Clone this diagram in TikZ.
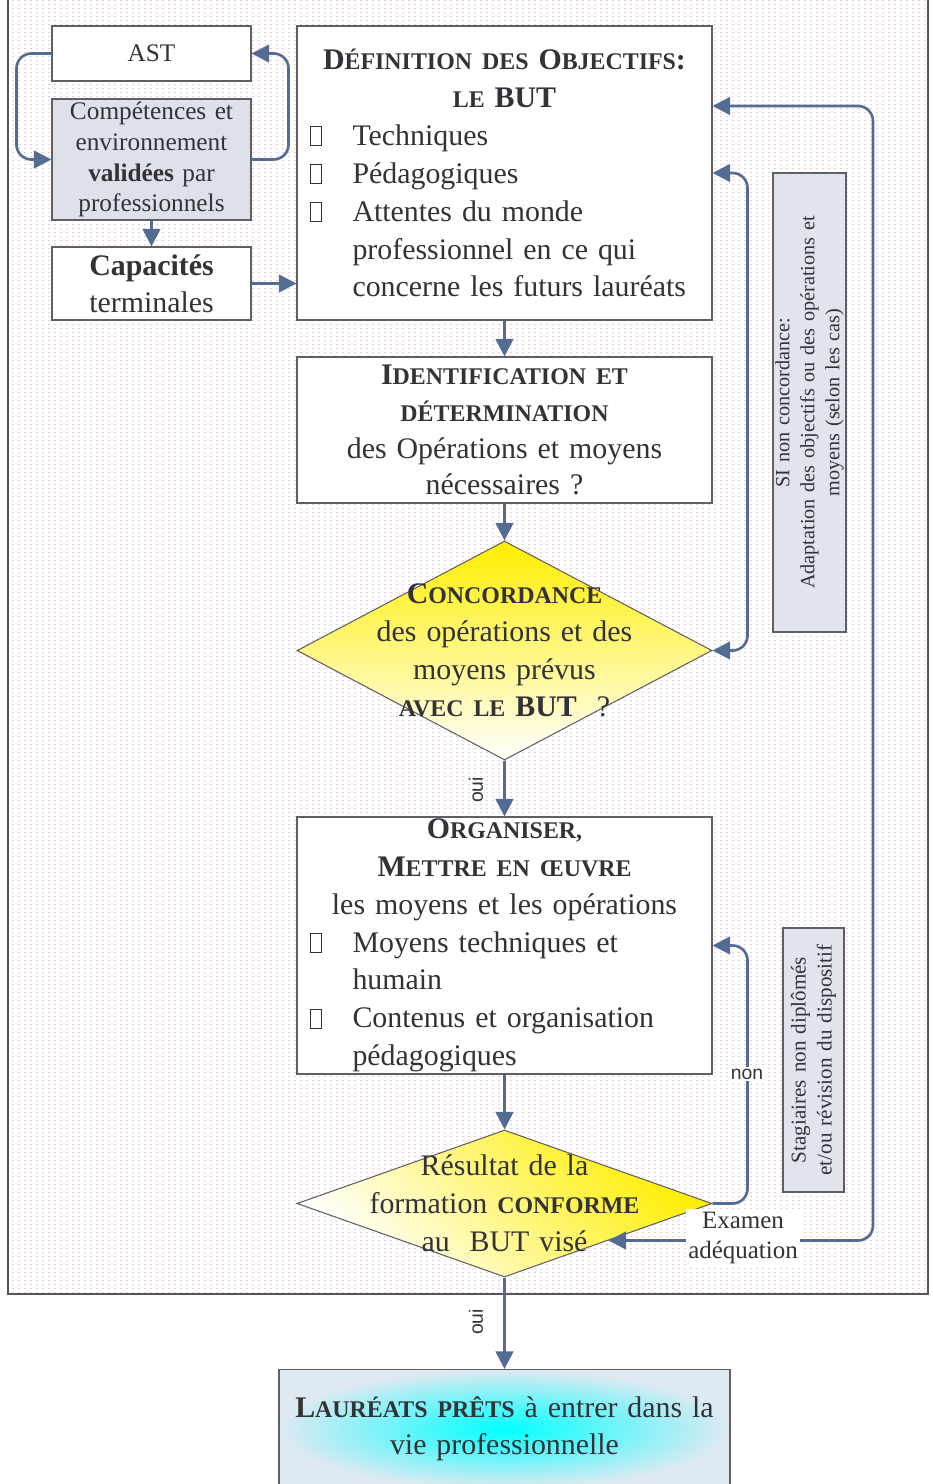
\documentclass[tikz,border=0pt]{standalone}
\usepackage{fontspec}
\setmainfont{Liberation Serif}
\newfontfamily\labelfont{Liberation Sans}
\usetikzlibrary{shapes.geometric,arrows.meta,patterns}

\definecolor{lineblue}{RGB}{84,108,148}
\definecolor{txtgrey}{RGB}{50,50,55}
\definecolor{boxedge}{RGB}{95,95,100}
\definecolor{framegrey}{RGB}{85,85,90}
\definecolor{panelgrey}{RGB}{225,228,235}
\definecolor{compfill}{RGB}{222,225,232}
\definecolor{finfill}{RGB}{222,233,242}
\definecolor{dotpink}{RGB}{222,180,194}
\definecolor{goldyellow}{RGB}{255,238,0}

% tiny dashes of the page background
\pgfdeclarepatternformonly{pinkticks}{\pgfpointorigin}{\pgfqpoint{3.4pt}{2.04pt}}{\pgfqpoint{3.4pt}{2.04pt}}{%
\pgfpathrectangle{\pgfqpoint{0.6pt}{0.8pt}}{\pgfqpoint{1.1pt}{0.45pt}}\pgfusepath{fill}}

% fake bold small capitals and the empty bullet box
\newcommand{\smc}[1]{{\fontsize{13.6}{15}\selectfont #1}}
\newcommand{\bx}{{\fboxsep=0pt\fboxrule=0.6pt\fbox{\rule{0pt}{0.36cm}\hspace{0.2cm}}}}
\newcommand{\itm}[1]{\par{\hangindent=0.86cm\hangafter=1\noindent\makebox[0.86cm][l]{\bx}\let\\\newline #1\par}}

\tikzset{
% boxes, decisions and connectors of the flow chart
plain box/.style={rectangle,draw=boxedge,line width=0.6pt,fill=white,text=txtgrey,inner sep=0pt,align=center},
grey box/.style={plain box,fill=panelgrey},
check node/.style={diamond,draw=boxedge,line width=0.6pt,inner sep=0pt},
flow text/.style={text=txtgrey,inner sep=0pt,font=\fontsize{17}{21.5}\selectfont},
link/.style={draw=lineblue,line width=1.5pt,rounded corners=0.3cm},
small label/.style={font=\labelfont\fontsize{11}{13}\selectfont,text=txtgrey,inner sep=1pt},
>={Triangle[length=10pt,width=10pt]}
}

\begin{document}
\begin{tikzpicture}
\useasboundingbox (0,0) rectangle (18.66,-29.68);
\fill[white] (0,0) rectangle (18.66,-29.68);
% background frame
\draw[draw=framegrey,line width=1pt,pattern=pinkticks,pattern color=dotpink] (0.16,0.1) rectangle (18.56,-25.88);

% side notes
\node[grey box,rotate=90,minimum width=9.18cm,minimum height=1.46cm,text width=9cm,font=\fontsize{11.5}{14.2}\selectfont] (note1) at (16.19,-8.05)
{SI non concordance:\\Adaptation des objectifs ou des opérations et\\moyens (selon les cas)};
\node[grey box,rotate=90,minimum width=5.28cm,minimum height=1.22cm,text width=5.2cm,font=\fontsize{12}{14.7}\selectfont] (note2) at (16.27,-21.2)
{Stagiaires non diplômés\\et/ou révision du dispositif};

% left column
\node[plain box,minimum width=3.98cm,minimum height=1.1cm,font=\fontsize{14.4}{17.6}\selectfont] (ast) at (3.03,-1.07) {AST};
\node[plain box,fill=compfill,minimum width=3.98cm,minimum height=2.42cm,text width=3.9cm,font=\fontsize{14.4}{17.6}\selectfont] (comp) at (3.03,-3.19)
{Compétences et\\environnement\\\textbf{validées} par\\professionnels};
\node[plain box,minimum width=3.98cm,minimum height=1.46cm,text width=3.9cm,font=\fontsize{17}{21}\selectfont] (cap) at (3.03,-5.67)
{\textbf{Capacités}\\terminales};

% main column
\node[plain box,minimum width=8.3cm,minimum height=5.88cm,text width=7.8cm,align=left,font=\fontsize{17}{21.6}\selectfont] (def) at (10.09,-3.46)
{{\centering\bfseries D\smc{ÉFINITION DES} O\smc{BJECTIFS}:\\\smc{LE} BUT\par}
\itm{Techniques}
\itm{Pédagogiques}
\itm{Attentes du monde\\professionnel en ce qui\\concerne les futurs lauréats}};
\node[plain box,minimum width=8.3cm,minimum height=2.92cm,text width=8cm,font=\fontsize{17}{21}\selectfont] (ident) at (10.09,-8.6)
{{\bfseries I\smc{DENTIFICATION ET}\\\smc{DÉTERMINATION}}\\des Opérations et moyens\\nécessaires ?};
\node[check node,top color=goldyellow,bottom color=white,minimum width=8.3cm,minimum height=4.38cm] (d1) at (10.09,-13.01) {};
\node[flow text,align=center,text width=6.5cm] (d1 text) at (d1)
{{\bfseries C\smc{ONCORDANCE}}\\des opérations et des\\moyens prévus\\{\bfseries\smc{AVEC LE} BUT}\ \ ?};
\node[plain box,minimum width=8.3cm,minimum height=5.14cm] (org) at (10.09,-18.91) {};
\node[flow text,align=left,text width=7.8cm] (org text) at (org)
{{\centering\bfseries O\smc{RGANISER,}\\M\smc{ETTRE EN ŒUVRE}\par}
{\centering les moyens et les opérations\par}
\itm{Moyens techniques et\\humain}
\itm{Contenus et organisation\\pédagogiques}};
\node[check node,top color=goldyellow,bottom color=white,shading angle=-45,minimum width=8.3cm,minimum height=2.94cm] (d2) at (10.09,-24.07) {};
\node[flow text,align=center,text width=6.5cm] (d2 text) at (d2)
{Résultat de la\\formation {\bfseries\smc{CONFORME}}\\au\ \ BUT visé};
\node[plain box,anchor=north,minimum width=9.02cm,minimum height=2.38cm,text width=8.8cm,shading=radial,inner color=cyan,outer color=finfill,font=\fontsize{17}{21.3}\selectfont] (fin) at (10.09,-27.38)
{{\bfseries L\smc{AURÉATS PRÊTS}} à entrer dans la\\vie professionnelle};

% connectors
\draw[link,->] (ast.west) -- ++(-0.7,0) |- (comp.west);
\draw[link,->] (comp.east) -- ++(0.74,0) |- (ast.east);
\draw[link,->] (comp.south) -- (cap.north);
\draw[link,->] (cap.east) -- (cap.east -| def.west);
\draw[link,->] (def.south) -- (ident.north);
\draw[link,->] (ident.south) -- (d1.north);
\draw[link,<->] (d1.east) -- ++(0.7,0) |- (def.east);
\draw[link,->] (d1.south) -- (org.north);
\draw[link,->] (org.south) -- (d2.north);
\draw[link,->] (d2.east) -- ++(0.7,0) |- (org.east);
\coordinate (back) at (17.46,-2.12);
\draw[link,<->] (d2.south east) -| (back) -- (back -| def.east);
\draw[link,->] (d2.south) -- (fin.north);

% labels on the connectors
\node[small label,rotate=90] (oui1) at (9.52,-15.8) {oui};
\node[small label,rotate=90] (oui2) at (9.52,-26.44) {oui};
\node[small label,fill=white] (non) at (14.94,-21.48) {non};
\node[fill=white,text=txtgrey,inner sep=1.5pt,align=center,font=\fontsize{14.2}{17.6}\selectfont] (exam) at (14.86,-24.76) {Examen\\adéquation};
\end{tikzpicture}
\end{document}
